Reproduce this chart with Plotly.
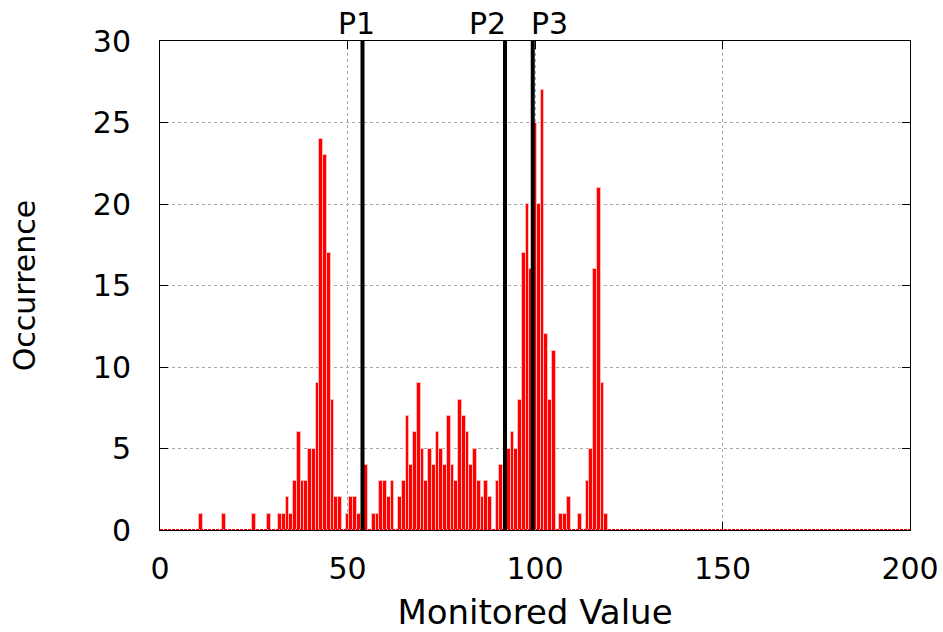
import plotly.graph_objects as go

# Histogram bins (monitored value) with non-zero occurrence counts
bin_values = [11, 17, 25, 29, 32, 33, 34, 35, 36, 37, 38, 39, 40, 41, 42, 43, 44, 45, 46, 47, 48,
              50, 51, 52, 53, 55, 57, 58, 59, 60, 61, 62, 64, 65, 66, 67, 68, 69, 70, 71, 72, 73,
              74, 75, 76, 77, 78, 79, 80, 81, 82, 83, 84, 85, 86, 87, 88, 90, 91, 93, 94, 95, 96,
              97, 98, 99, 100, 101, 102, 103, 104, 105, 107, 108, 109, 112, 114, 115, 116, 117,
              118, 119]
counts = [1, 1, 1, 1, 1, 1, 2, 1, 3, 6, 3, 3, 5, 5, 9, 24, 23, 17, 8, 2, 2,
          1, 2, 2, 1, 4, 1, 1, 3, 3, 2, 3, 2, 3, 7, 4, 6, 9, 5, 3, 5, 4,
          6, 5, 4, 7, 4, 3, 8, 7, 6, 4, 5, 3, 2, 3, 2, 3, 4, 5, 6, 5, 8,
          17, 20, 16, 25, 20, 27, 12, 8, 11, 1, 1, 2, 1, 3, 5, 16, 21,
          9, 1]

# Marker positions
marker_names = ["P1", "P2", "P3"]
marker_values = [54, 92, 99.4]

x_range = [0, 200]
y_range = [0, 30]
x_ticks = [0, 50, 100, 150, 200]
y_ticks = [0, 5, 10, 15, 20, 25, 30]

FONT = "DejaVu Sans"
label_shift = {"P1": -6, "P2": -18, "P3": 17}

fig = go.Figure()

# zero-height boxes show as a red dashed baseline
fig.add_trace(go.Scatter(
    x=x_range, y=[0, 0], mode="lines",
    line=dict(color="#ff0000", width=2, dash="3px,1px"),
    hoverinfo="skip", showlegend=False, cliponaxis=False,
))

fig.add_trace(go.Bar(
    x=bin_values, y=counts, width=1,
    marker=dict(color="#ff0000", line=dict(color="#ffb8b8", width=1)),
    showlegend=False,
))

for name, v in zip(marker_names, marker_values):
    fig.add_trace(go.Scatter(
        x=[v, v], y=y_range, mode="lines",
        line=dict(color="#000000", width=4),
        showlegend=False, hoverinfo="skip", cliponaxis=False,
    ))
    fig.add_annotation(
        x=v, y=1, xref="x", yref="paper", text=name, showarrow=False,
        yanchor="bottom", xanchor="center", yshift=-2, xshift=label_shift[name],
        font=dict(family=FONT, size=30, color="#000000"),
    )

axis_common = dict(
    showgrid=True, gridcolor="#a8a8a8", griddash="dot", gridwidth=1,
    showline=True, linecolor="#000000", linewidth=1, mirror="ticks",
    ticks="inside", ticklen=8, tickcolor="#000000", tickwidth=1,
    zeroline=False, layer="below traces", automargin=False,
    tickfont=dict(family=FONT, size=30, color="#000000"),
)

fig.update_layout(
    width=943, height=632,
    margin=dict(l=160, r=33, t=41, b=102),
    paper_bgcolor="#ffffff", plot_bgcolor="#ffffff",
    bargap=0,
    xaxis=dict(range=x_range, tickvals=x_ticks, ticklabelstandoff=12,
               title=dict(text="Monitored Value", standoff=23,
                          font=dict(family=FONT, size=34, color="#000000")),
               **axis_common),
    yaxis=dict(range=y_range, tickvals=y_ticks, ticklabelstandoff=22,
               title=dict(text="Occurrence", standoff=48,
                          font=dict(family=FONT, size=30, color="#000000")),
               **axis_common),
)

fig.write_html("out.html")
